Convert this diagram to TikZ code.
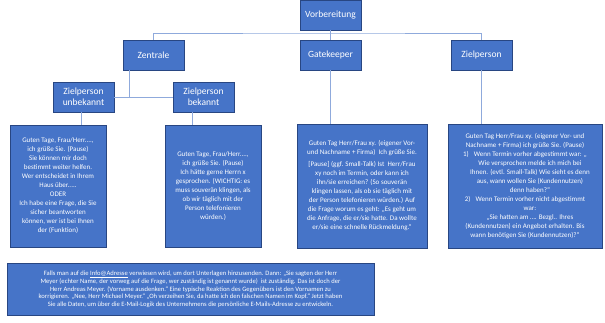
\documentclass[tikz,border=0pt]{standalone}
\usepackage{fontspec}
\setmainfont{Carlito}
\usetikzlibrary{shadows}
\definecolor{boxblue}{RGB}{70,116,200}
\definecolor{boxedge}{RGB}{40,70,130}
\definecolor{linkblue}{RGB}{143,170,220}
\begin{document}
\begin{tikzpicture}[x=1pt,y=-1pt,
  hbox/.style={draw=boxedge, line width=0.6pt, fill=boxblue, text=white,
    minimum width=61pt, minimum height=30pt, inner sep=1pt, align=center,
    font=\fontsize{9.5}{11}\selectfont,
    drop shadow={shadow xshift=1.2pt, shadow yshift=-1.2pt, opacity=0.45}},
  tbox/.style={draw=boxedge, line width=0.8pt, fill=boxblue, text=white,
    align=center, inner sep=2pt, font=\fontsize{7}{9}\selectfont,
    drop shadow={shadow xshift=1pt, shadow yshift=-1pt, opacity=0.45}},
  conn/.style={draw=linkblue, line width=0.7pt}]
\useasboundingbox (0,0) rectangle (605,322);

% header boxes
\node[hbox] (vor)  at (330.5,15) {Vorbereitung};
\node[hbox] (zen)  at (153.5,55) {Zentrale};
\node[hbox] (gate) at (330.5,55) {Gatekeeper};
\node[hbox] (ziel) at (481.5,55) {Zielperson};
\node[hbox] (unb)  at (83.5,97)  {Zielperson\\unbekannt};
\node[hbox] (bek)  at (203.5,97) {Zielperson\\bekannt};

% text boxes
\node[tbox, minimum width=96pt, minimum height=122pt] (t1) at (58,186)
 {Guten Tage, Frau/Herr....,\\ich grüße Sie. (Pause)\\Sie können mir doch\\bestimmt weiter helfen.\\Wer entscheidet in Ihrem\\Haus über.....\\ODER\\Ich habe eine Frage, die Sie\\sicher beantworten\\können, wer ist bei Ihnen\\der (Funktion)};
\node[tbox, minimum width=96pt, minimum height=122pt] (t2) at (213,186)
 {Guten Tage, Frau/Herr....,\\ich grüße Sie. (Pause)\\Ich hätte gerne Herrn x\\gesprochen. (WICHTIG: es\\muss souverän klingen, als\\ob wir täglich mit der\\Person telefonieren\\würden.)};
\node[tbox, minimum width=130pt, minimum height=124pt] (t3) at (362,186)
 {Guten Tag Herr/Frau xy. (eigener Vor-\\und Nachname + Firma)\ \ Ich grüße Sie.\\[3pt]
 [Pause] (ggf. Small-Talk) Ist\ \ Herr/Frau\\xy noch im Termin, oder kann ich\\ihn/sie erreichen? (So souverän\\klingen lassen, als ob sie täglich mit\\der Person telefonieren würden.) Auf\\die Frage worum es geht: „Es geht um\\die Anfrage, die er/sie hatte. Da wollte\\er/sie eine schnelle Rückmeldung.“};
\node[tbox, minimum width=154pt, minimum height=124pt] (t4) at (525,186)
 {Guten Tag Herr/Frau xy. (eigener Vor- und\\Nachname + Firma) ich grüße Sie. (Pause)\\
 1)\enspace\ Wenn Termin vorher abgestimmt war: „\\
 \hspace*{10pt}Wie versprochen melde ich mich bei\\
 \hspace*{10pt}Ihnen. (evtl. Small-Talk) Wie sieht es denn\\
 \hspace*{10pt}aus, wann wollen Sie (Kundennutzen)\\
 \hspace*{10pt}denn haben?“\\
 2)\enspace\ Wenn Termin vorher nicht abgestimmt\\
 \hspace*{10pt}war:\\
 \hspace*{10pt}„Sie hatten am …. Bezgl.. Ihres\\
 (Kundennutzen) ein Angebot erhalten. Bis\\
 wann benötigen Sie (Kundennutzen)?“};
\node[tbox, minimum width=367pt, minimum height=52pt, font=\fontsize{6.6}{7.5}\selectfont] (t5) at (190.5,289)
 {Falls man auf die \underline{Info@Adresse} verwiesen wird, um dort Unterlagen hinzusenden. Dann: „Sie sagten der Herr\\
 Meyer (echter Name, der vorweg auf die Frage, wer zuständig ist genannt wurde)\ \ ist zuständig. Das ist doch der\\
 Herr Andreas Meyer. (Vorname ausdenken.“ Eine typische Reaktion des Gegenübers ist den Vornamen zu\\
 korrigieren. „Nee, Herr Michael Meyer.“ „Oh verzeihen Sie, da hatte ich den falschen Namen im Kopf.“ Jetzt haben\\
 Sie alle Daten, um über die E-Mail-Logik des Unternehmens die persönliche E-Mails-Adresse zu entwickeln.};

% connectors
\coordinate (bus) at (330.5,33);
\draw[conn] (vor.south) -- (bus);
\draw[conn] (zen.north) |- (bus) -| (ziel.north);
\draw[conn] (bus) -- (gate.north);
\coordinate (zl) at ([xshift=-24.5pt]zen.south);
\draw[conn] (zl) -- (zl |- unb.east);
\draw[conn] (unb.east) -- (bek.west);
\coordinate (ul) at ([xshift=-2.5pt]unb.south);
\draw[conn] (ul) -- (ul |- t1.north);
\coordinate (bl) at ([xshift=-11.5pt]bek.south);
\draw[conn] (bl) -- (bl |- t2.north);
\draw[conn] (gate.south) -- (gate.south |- t3.north);
\draw[conn] (ziel.south) -- (ziel.south |- t4.north);
\end{tikzpicture}
\end{document}
